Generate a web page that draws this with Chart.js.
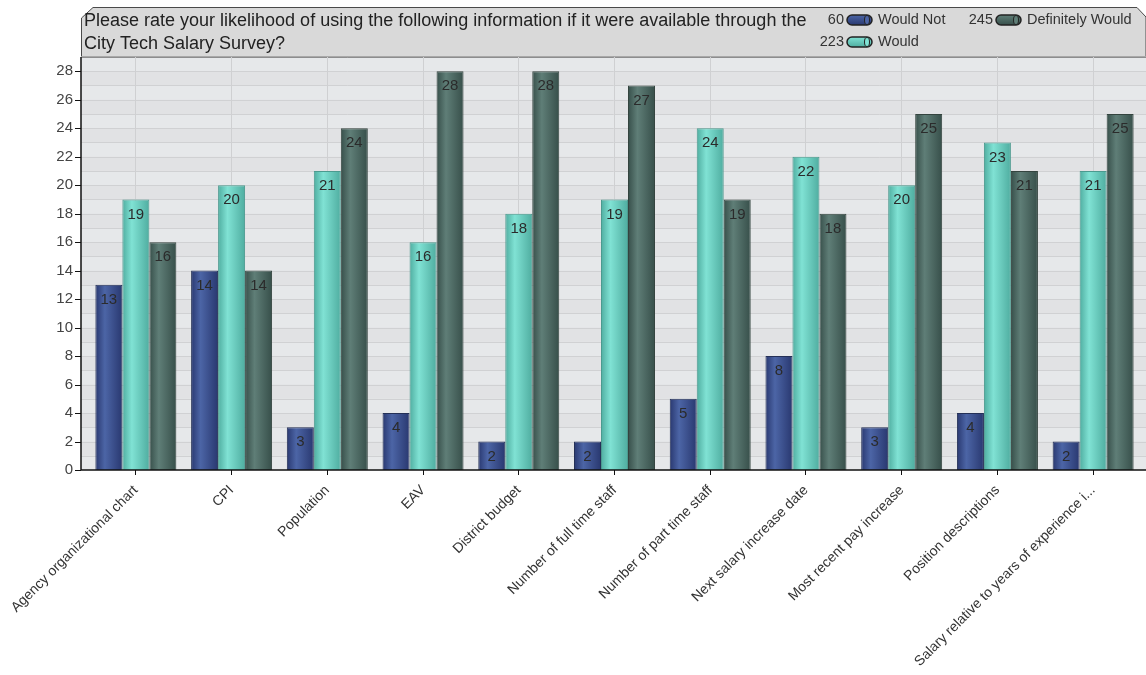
<!DOCTYPE html>
<html>
<head>
<meta charset="utf-8">
<script src="https://cdn.jsdelivr.net/npm/chart.js@4.4.1/dist/chart.umd.min.js"></script>
<style>
  html, body { margin: 0; padding: 0; background: #fff; }
  #wrap { width: 1146px; height: 675px; position: relative; }
</style>
</head>
<body>
<div id="wrap"><canvas id="survey-chart"></canvas></div>
<script>
// Survey answers per item
const categories = [
  'Agency organizational chart',
  'CPI',
  'Population',
  'EAV',
  'District budget',
  'Number of full time staff',
  'Number of part time staff',
  'Next salary increase date',
  'Most recent pay increase',
  'Position descriptions',
  'Salary relative to years of experience i...',
];
const wouldNot = [13, 14, 3, 4, 2, 2, 5, 8, 3, 4, 2];
const would = [19, 20, 21, 16, 18, 19, 24, 22, 20, 23, 21];
const definitelyWould = [16, 14, 24, 28, 28, 27, 19, 18, 25, 21, 25];
const yTicks = [0, 2, 4, 6, 8, 10, 12, 14, 16, 18, 20, 22, 24, 26, 28];

const titleLines = [
  'Please rate your likelihood of using the following information if it were available through the',
  'City Tech Salary Survey?',
];

const FONT = '"Liberation Sans", Arial, sans-serif';
const CAT_PCT = 0.846;

// edge / highlight / border colours for each series
const palettes = [
  { dark: '#293870', light: '#4c65a6', border: '#243057' },
  { dark: '#4fada0', light: '#80e2d4', border: '#4b9a8f' },
  { dark: '#374f4a', light: '#5f7e77', border: '#34443f' },
];

const sum = (arr) => arr.reduce((a, b) => a + b, 0);

// Cylinder-like horizontal gradient for a bar
const barGradient = (context) => {
  const chart = context.chart;
  const pal = palettes[context.datasetIndex];
  const xScale = chart.scales.x;
  if (!chart.chartArea || !xScale || context.dataIndex === undefined) return pal.light;
  const catW = xScale.width / categories.length;
  const groupW = catW * CAT_PCT;
  const barW = groupW / 3;
  const left = xScale.getPixelForValue(context.dataIndex) - groupW / 2 + context.datasetIndex * barW;
  const g = chart.ctx.createLinearGradient(left, 0, left + barW, 0);
  g.addColorStop(0, pal.dark);
  g.addColorStop(0.35, pal.light);
  g.addColorStop(1, pal.dark);
  return g;
};

// Plot background, header box with title and legend, axis lines
const framePlugin = {
  id: 'frame',
  beforeDraw(chart) {
    const { ctx, chartArea, scales } = chart;
    const left = 81;
    const right = chart.width;
    ctx.save();

    // striped plot background + horizontal grid lines
    ctx.fillStyle = '#e6e8ea';
    ctx.fillRect(left, chartArea.top, right - left, chartArea.bottom - chartArea.top);
    for (let v = 0; v < 29; v++) {
      const y0 = scales.y.getPixelForValue(v);
      const y1 = scales.y.getPixelForValue(v + 1);
      if (v % 2 === 1) {
        ctx.fillStyle = '#e1e2e4';
        ctx.fillRect(left, y1, right - left, y0 - y1);
      }
    }
    ctx.strokeStyle = '#d0d1d3';
    ctx.lineWidth = 1;
    for (let v = 1; v <= 29; v++) {
      const y = Math.round(scales.y.getPixelForValue(v)) + 0.5;
      ctx.beginPath();
      ctx.moveTo(left, y);
      ctx.lineTo(right, y);
      ctx.stroke();
    }

    // header box
    ctx.beginPath();
    ctx.moveTo(81.5, chartArea.top);
    ctx.lineTo(81.5, 18);
    ctx.lineTo(93, 7.5);
    ctx.lineTo(1137, 7.5);
    ctx.lineTo(1146, 17);
    ctx.lineTo(1146, chartArea.top);
    ctx.closePath();
    ctx.fillStyle = '#d9d9d9';
    ctx.fill();
    ctx.strokeStyle = '#4a4a4a';
    ctx.stroke();
    ctx.strokeStyle = '#a8a8a8';
    ctx.beginPath();
    ctx.moveTo(81, chartArea.top - 0.5);
    ctx.lineTo(right, chartArea.top - 0.5);
    ctx.stroke();

    // title
    ctx.fillStyle = '#222';
    ctx.font = `18px ${FONT}`;
    ctx.textBaseline = 'middle';
    ctx.textAlign = 'left';
    titleLines.forEach((line, i) => ctx.fillText(line, 84, 21 + i * 23));

    // legend: total, swatch, name
    const items = [
      { total: sum(wouldNot), label: 'Would Not', x: 847, y: 20, pal: palettes[0] },
      { total: sum(definitelyWould), label: 'Definitely Would', x: 996, y: 20, pal: palettes[2] },
      { total: sum(would), label: 'Would', x: 847, y: 42, pal: palettes[1] },
    ];
    ctx.font = `14.5px ${FONT}`;
    items.forEach((it) => {
      ctx.fillStyle = '#333';
      ctx.textAlign = 'right';
      ctx.fillText(String(it.total), it.x - 3, it.y);
      const w = 25;
      const h = 10;
      const top = it.y - h / 2;
      const g = ctx.createLinearGradient(0, top, 0, top + h);
      g.addColorStop(0, it.pal.light);
      g.addColorStop(1, it.pal.dark);
      ctx.beginPath();
      ctx.roundRect(it.x, top, w, h, 5);
      ctx.fillStyle = g;
      ctx.fill();
      ctx.lineWidth = 1.5;
      ctx.strokeStyle = '#222';
      ctx.stroke();
      ctx.beginPath();
      ctx.ellipse(it.x + w - 5, it.y, 2.5, h / 2 - 0.5, 0, 0, Math.PI * 2);
      ctx.fillStyle = it.pal.light;
      ctx.fill();
      ctx.lineWidth = 1;
      ctx.stroke();
      ctx.fillStyle = '#333';
      ctx.textAlign = 'left';
      ctx.fillText(it.label, it.x + w + 6, it.y);
    });
    ctx.restore();
  },
  afterDraw(chart) {
    const { ctx, chartArea, scales } = chart;
    ctx.save();
    ctx.strokeStyle = '#111';
    ctx.lineWidth = 1.5;
    ctx.beginPath();
    ctx.moveTo(81, chartArea.top);
    ctx.lineTo(81, chartArea.bottom);
    ctx.lineTo(chart.width, chartArea.bottom);
    ctx.stroke();
    // y tick marks at labelled values
    ctx.lineWidth = 1;
    yTicks.forEach((v) => {
      const y = Math.round(scales.y.getPixelForValue(v)) + 0.5;
      ctx.beginPath();
      ctx.moveTo(75, y);
      ctx.lineTo(81, y);
      ctx.stroke();
    });
    ctx.restore();
  },
};

// Value inside the top of every bar
const valueLabels = {
  id: 'valueLabels',
  afterDatasetsDraw(chart) {
    const { ctx } = chart;
    ctx.save();
    ctx.font = `15px ${FONT}`;
    ctx.fillStyle = '#2b2b2b';
    ctx.textAlign = 'center';
    ctx.textBaseline = 'middle';
    chart.data.datasets.forEach((ds, di) => {
      chart.getDatasetMeta(di).data.forEach((bar, i) => {
        ctx.fillText(String(ds.data[i]), bar.x, bar.y + 15);
      });
    });
    ctx.restore();
  },
};

const makeDataset = (label, data, idx) => ({
  label,
  data,
  backgroundColor: barGradient,
  borderColor: palettes[idx].border,
  borderWidth: 1,
  categoryPercentage: CAT_PCT,
  barPercentage: 1,
});

new Chart(document.getElementById('survey-chart'), {
  type: 'bar',
  data: {
    labels: categories,
    datasets: [
      makeDataset('Would Not', wouldNot, 0),
      makeDataset('Would', would, 1),
      makeDataset('Definitely Would', definitelyWould, 2),
    ],
  },
  options: {
    responsive: true,
    maintainAspectRatio: false,
    animation: false,
    layout: { padding: { top: 57, right: 5, left: 0, bottom: 0 } },
    plugins: {
      legend: { display: false },
      title: { display: false },
      tooltip: { enabled: false },
    },
    scales: {
      x: {
        afterFit: (scale) => { scale.height = 205; },
        border: { display: false },
        grid: {
          offset: false,
          color: '#cfd0d2',
          tickColor: '#111',
          tickLength: 5,
        },
        ticks: {
          autoSkip: false,
          maxRotation: 45,
          minRotation: 45,
          padding: 7,
          color: '#333',
          font: { family: FONT, size: 14 },
        },
      },
      y: {
        min: 0,
        max: 29,
        afterFit: (scale) => { scale.width = 88; },
        border: { display: false },
        grid: { display: false, drawTicks: false },
        ticks: {
          stepSize: 1,
          padding: 15,
          color: '#444',
          font: { family: FONT, size: 15 },
          callback: (value) => (yTicks.includes(value) ? value : ''),
        },
      },
    },
  },
  plugins: [framePlugin, valueLabels],
});
</script>
</body>
</html>
